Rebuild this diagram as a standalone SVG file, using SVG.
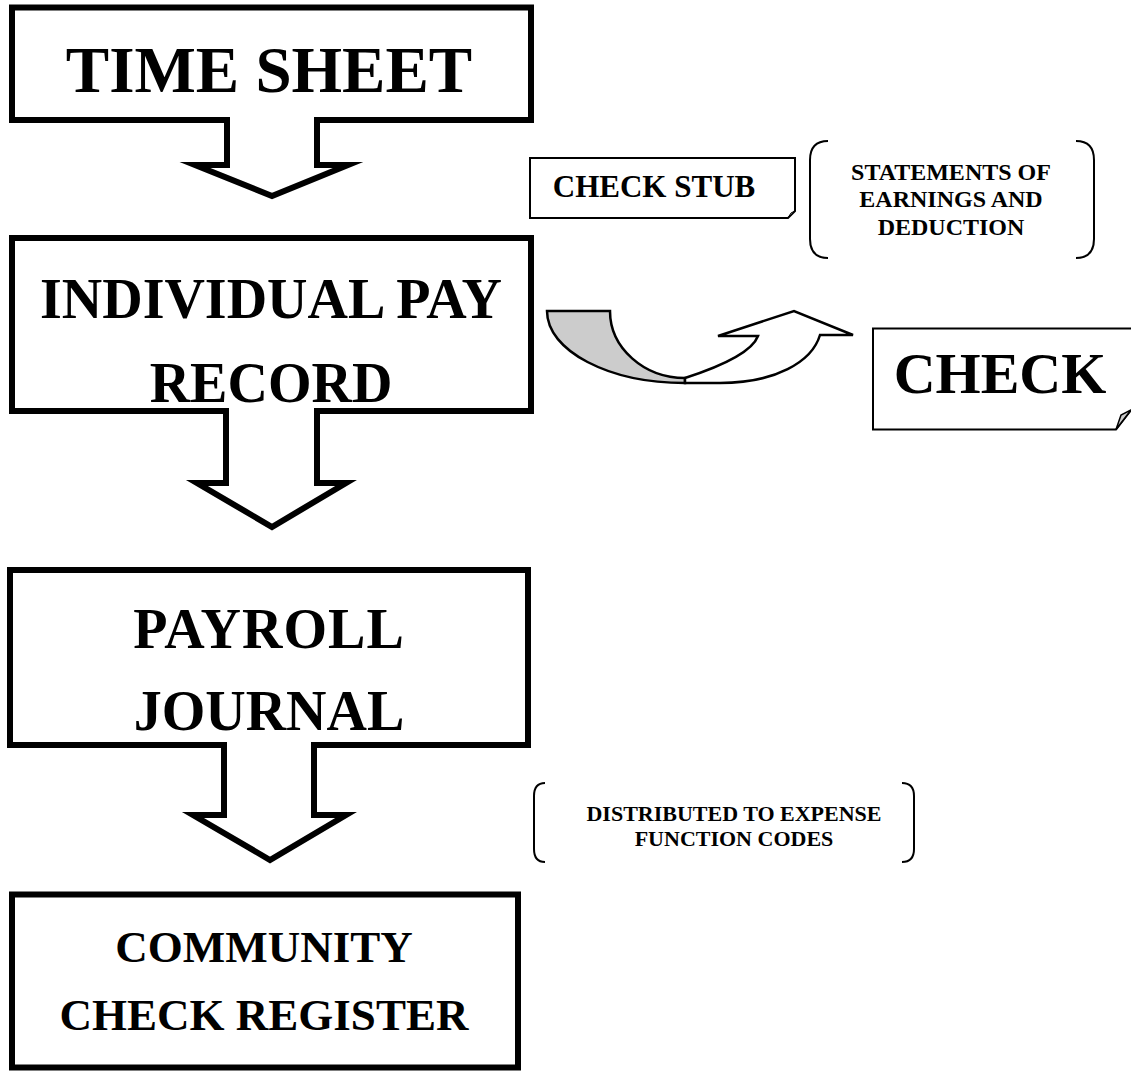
<svg xmlns="http://www.w3.org/2000/svg" width="1131" height="1071" viewBox="0 0 1131 1071">
<style>
.callout{fill:#fff;stroke:#000;stroke-width:6;stroke-linejoin:miter;stroke-miterlimit:10}
.thin{fill:#fff;stroke:#000;stroke-width:2}
.br{fill:none;stroke:#000;stroke-width:2}
.t{font-family:"Liberation Serif","Times New Roman",serif;font-weight:bold;fill:#000;text-anchor:middle}
</style>
<rect width="1131" height="1071" fill="#fff"/>
<g id="connectors">
<path id="curved-arrow-back" d="M547,311 H610 C610,348 644,378 685,378 L685,383 C609,383 547,351 547,311 Z" fill="#cccccc" stroke="#000" stroke-width="2.5" stroke-linejoin="miter"/>
<path id="curved-arrow-front" d="M685,378 C722,366 752,352 758,336 L718,336 L794,311 L853,335 L820,335 C812,362 775,383 720,383 L685,383 Z" fill="#fff" stroke="#000" stroke-width="2.5" stroke-linejoin="miter"/>
</g>
<g id="time-sheet">
<path class="callout" d="M12,7.5 H531 V120 H317 V165 H348 L272,196 L195,165 H227 V120 H12 Z"/>
<text class="t" x="269" y="92" font-size="65">TIME SHEET</text>
</g>
<g id="individual-pay-record">
<path class="callout" d="M12,238 H531 V411 H317 V483 H346 L272,527 L197,483 H226 V411 H12 Z"/>
<text class="t" x="271" y="318" font-size="56">INDIVIDUAL PAY</text>
<text class="t" x="271" y="402" font-size="56">RECORD</text>
</g>
<g id="payroll-journal">
<path class="callout" d="M10,570 H528 V745 H314 V815 H346 L270,860 L193,815 H224 V745 H10 Z"/>
<text class="t" x="269" y="648" font-size="56" letter-spacing="1">PAYROLL</text>
<text class="t" x="269" y="730" font-size="56">JOURNAL</text>
</g>
<g id="community-check-register">
<rect class="callout" x="12" y="894.5" width="506" height="173"/>
<text class="t" x="264" y="962" font-size="45">COMMUNITY</text>
<text class="t" x="264" y="1030" font-size="45">CHECK REGISTER</text>
</g>
<g id="check-stub">
<path class="thin" d="M530,158 H795 V211 L788,218 H530 Z"/>
<path d="M795,211 L791,213 L788,218 Z" fill="#999" stroke="#000" stroke-width="1"/>
<text class="t" x="654" y="197" font-size="31">CHECK STUB</text>
</g>
<g id="statements-note">
<path class="br" d="M828,141 Q810,141 810,160 V239 Q810,258 828,258"/>
<path class="br" d="M1076,141 Q1094,141 1094,160 V239 Q1094,258 1076,258"/>
<text class="t" x="951" y="180" font-size="24">STATEMENTS OF</text>
<text class="t" x="951" y="207" font-size="24">EARNINGS AND</text>
<text class="t" x="951" y="235" font-size="24">DEDUCTION</text>
</g>
<g id="check">
<path class="thin" d="M1140,328.5 H873 V429.5 H1116 L1131,410"/>
<path d="M1131,410 L1121,415 L1116,429.5 Z" fill="#cccccc" stroke="#000" stroke-width="1.5"/>
<text class="t" x="1000" y="393" font-size="58">CHECK</text>
</g>
<g id="distributed-note">
<path class="br" d="M545,783 Q534,783 534,796 V849 Q534,862 545,862"/>
<path class="br" d="M902,783 Q914,783 914,796 V849 Q914,862 902,862"/>
<text class="t" x="734" y="821" font-size="22">DISTRIBUTED TO EXPENSE</text>
<text class="t" x="734" y="846" font-size="22">FUNCTION CODES</text>
</g>
</svg>
